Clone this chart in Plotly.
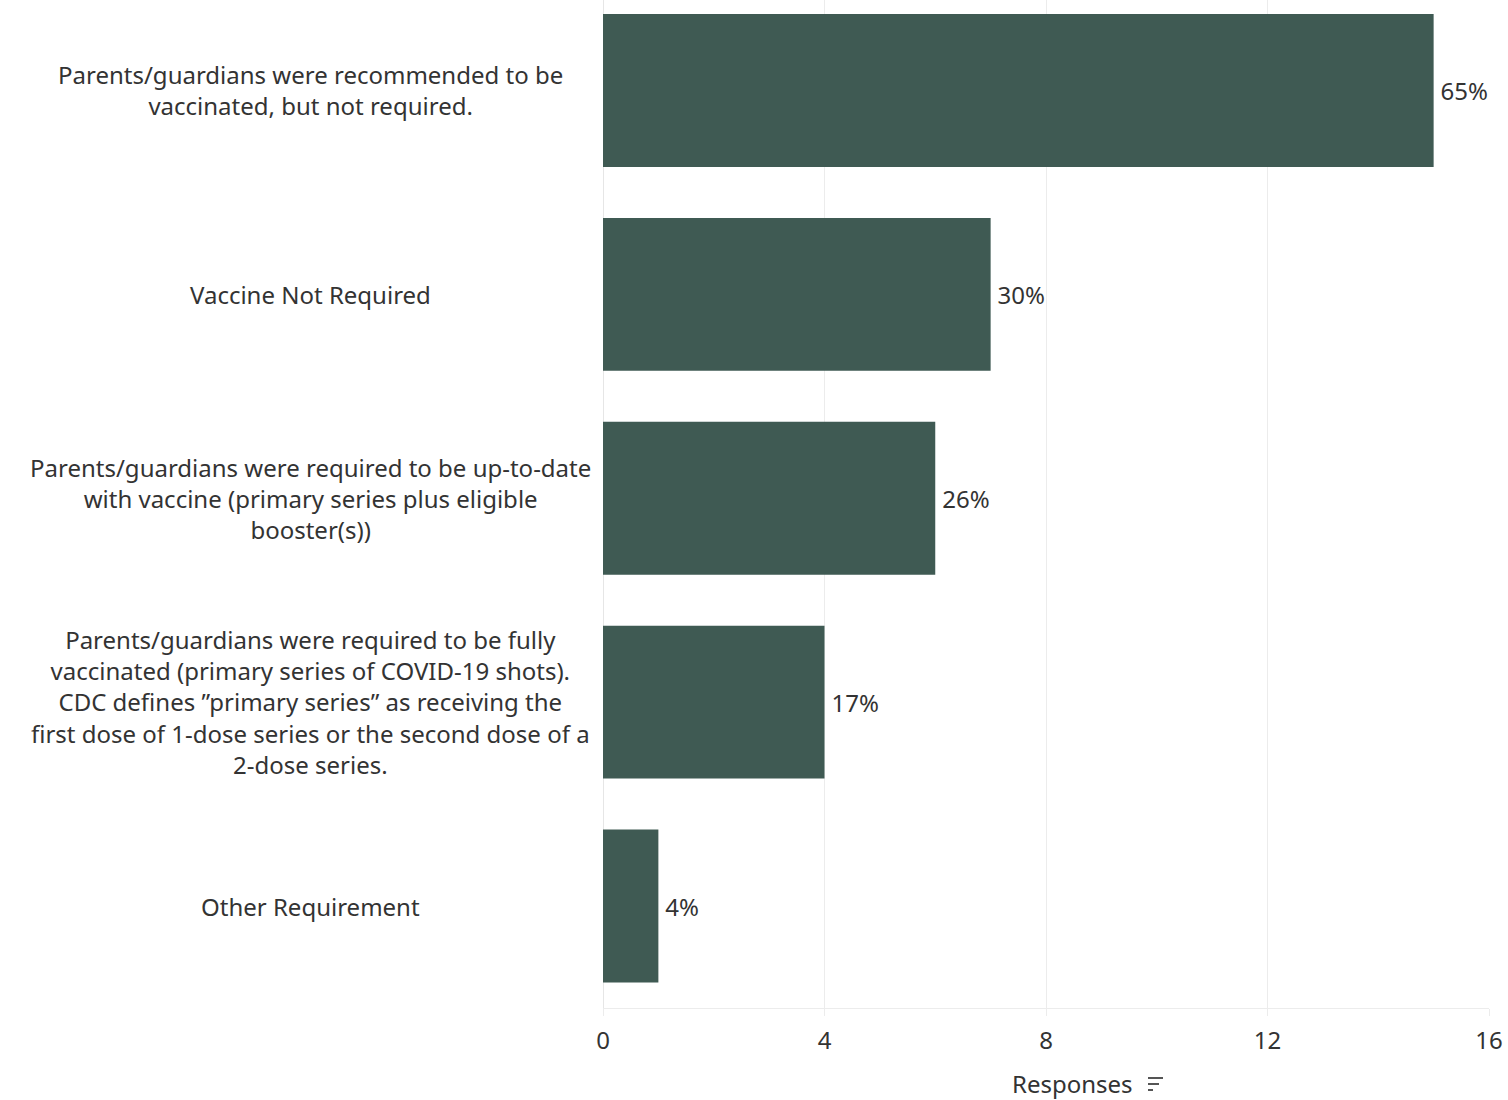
import plotly.graph_objects as go

categories = [
    "Parents/guardians were recommended to be<br>vaccinated, but not required.",
    "Vaccine Not Required",
    "Parents/guardians were required to be up-to-date<br>with vaccine (primary series plus eligible<br>booster(s))",
    "Parents/guardians were required to be fully<br>vaccinated (primary series of COVID-19 shots).<br>CDC defines \u201dprimary series\u201d as receiving the<br>first dose of 1-dose series or the second dose of a<br>2-dose series.",
    "Other Requirement",
]
responses = [15, 7, 6, 4, 1]
pct_labels = ["65%", "30%", "26%", "17%", "4%"]
x_ticks = [0, 4, 8, 12, 16]

BAR = "#3f5a53"
TXT = "#333333"
FONT = "Noto Sans"
FS = 24

W, H = 1508, 1100
L, R, T, B = 603, 19, 0, 92
PW = W - L - R
PH = H - T - B


def px_x(page_x):
    return (page_x - L) / PW


def px_y(page_y):
    return (H - B - page_y) / PH


fig = go.Figure()
fig.add_trace(go.Bar(
    x=responses,
    y=list(range(len(categories))),
    orientation="h",
    marker=dict(color=BAR, line=dict(width=0)),
    text=pct_labels,
    texttemplate="\u2009%{text}",
    textposition="outside",
    textfont=dict(family=FONT, size=FS, color=TXT),
    cliponaxis=False,
    hoverinfo="skip",
))

for i, c in enumerate(categories):
    fig.add_annotation(
        x=px_x(310), xref="paper", y=i, yref="y",
        text=c, showarrow=False, xanchor="center", yanchor="middle",
        align="center", font=dict(family=FONT, size=FS, color=TXT),
    )

fig.add_annotation(
    x=px_x(1072), xref="paper", y=px_y(1083), yref="paper",
    text="Responses", showarrow=False, xanchor="center", yanchor="middle",
    borderpad=0,
    font=dict(family=FONT, size=FS, color=TXT),
)

# sort icon next to the axis title
for yy, x0, x1 in [(1078, 1148, 1163), (1084, 1148, 1159), (1090, 1148, 1153)]:
    fig.add_shape(type="line", xref="paper", yref="paper",
                  x0=px_x(x0), x1=px_x(x1), y0=px_y(yy), y1=px_y(yy),
                  line=dict(color="#555555", width=2))

fig.update_layout(
    width=W, height=H,
    margin=dict(l=L, r=R, t=T, b=B, autoexpand=False),
    paper_bgcolor="white", plot_bgcolor="white",
    bargap=0.25,
    showlegend=False,
    font=dict(family=FONT, size=FS, color=TXT),
    xaxis=dict(
        range=[0, 16], tickvals=x_ticks, ticktext=[str(v) for v in x_ticks],
        showgrid=True, gridcolor="#ececec", gridwidth=1,
        zeroline=True, zerolinecolor="#e6e6e6", zerolinewidth=1,
        showline=True, linecolor="#ececec", linewidth=1,
        ticks="outside", ticklen=7, tickcolor="#ececec",
        tickfont=dict(family=FONT, size=FS, color=TXT),
        ticklabelstandoff=4,
    ),
    yaxis=dict(
        range=[4.5, -0.5 + 11.5 / 204], showticklabels=False, showgrid=False,
        zeroline=False, showline=False,
    ),
)

fig.write_html(
    "out.html",
    config={"displayModeBar": False},
    post_script="document.body.style.margin='0';document.body.style.overflow='hidden';",
)
